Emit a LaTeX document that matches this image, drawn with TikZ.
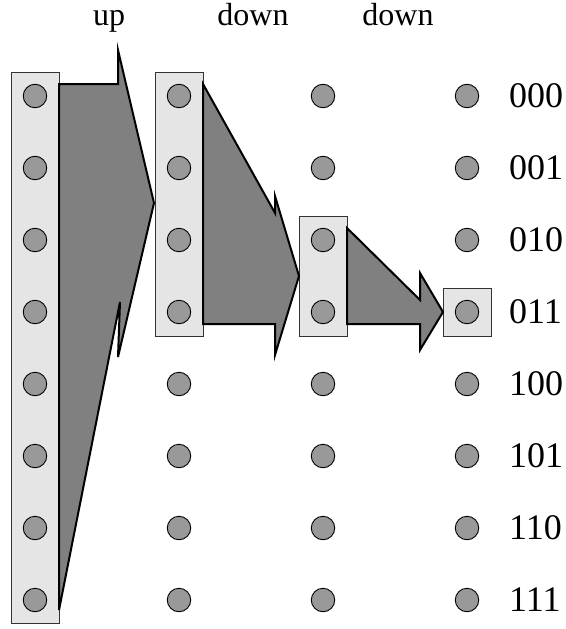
\documentclass[tikz,border=0pt]{standalone}
\usepackage{fontspec}
\setmainfont{Liberation Serif}
\begin{document}
\begin{tikzpicture}[x=1pt,y=-1pt,
  dot/.style={circle,draw=black,line width=0.9pt,fill=black!40,minimum size=23.5pt,inner sep=0pt},
  colbox/.style={draw=black!80,line width=1pt,fill=black!10},
  bigarrow/.style={draw=black,line width=2pt,fill=black!50,line join=miter},
  toplabel/.style={font=\fontsize{32}{36}\selectfont,anchor=base,inner sep=0pt},
  rowlabel/.style={font=\fontsize{36}{40}\selectfont,anchor=west,inner sep=0pt}]
\useasboundingbox (0,0) rectangle (565,629);
% boxes
\draw[colbox] (11,72) rectangle (59,623);
\draw[colbox] (155,72) rectangle (203,336);
\draw[colbox] (299,216) rectangle (347,336);
\draw[colbox] (443,288) rectangle (491,336);
% arrows
\draw[bigarrow] (59,84) -- (118,84) -- (118,50) -- (154,203) -- (118,357) -- (120,302) -- (59,610) -- cycle;
\draw[bigarrow] (203,84) -- (275,213) -- (275,196) -- (299,276) -- (275,355) -- (275,324) -- (203,324) -- cycle;
\draw[bigarrow] (347,228) -- (420,300) -- (420,273) -- (443,312) -- (420,350) -- (420,324) -- (347,324) -- cycle;
% dots
\foreach \c [count=\ci] in {35,179,323,467}{
  \foreach \r [count=\ri] in {96,168,240,312,384,456,528,600}{
    \node[dot] (d\ci-\ri) at (\c,\r) {};
  }
}
% row labels
\foreach \t/\r [count=\ri] in {000/96,001/168,010/240,011/312,100/384,101/456,110/528,111/600}{
  \node[rowlabel] (l\ri) at (509,\r) {\t};
}
% top labels
\node[toplabel] (up) at (109,25) {up};
\node[toplabel] (down1) at (253,25) {down};
\node[toplabel] (down2) at (398,25) {down};
\end{tikzpicture}
\end{document}
